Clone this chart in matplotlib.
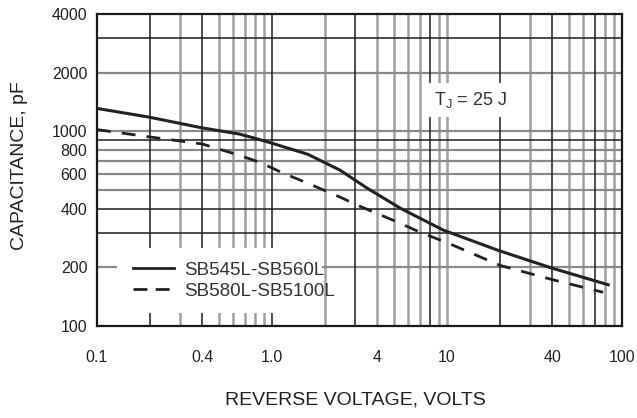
import matplotlib
matplotlib.use("Agg")
import matplotlib.pyplot as plt
from matplotlib.patches import Rectangle
from matplotlib.lines import Line2D

# ---- data ----
v_solid = [0.1, 0.2, 0.4, 0.65, 0.8, 1.0, 1.6, 2.45, 3.5, 5.4, 9.5, 19.5, 40, 85]
c_solid = [1310, 1180, 1040, 968, 920, 868, 762, 631, 510, 403, 311, 245, 198, 162]
v_dash = [0.1, 0.2, 0.4, 0.65, 0.85, 1.16, 1.6, 2.45, 3.06, 5.4, 7.0, 10, 20, 40, 78]
c_dash = [1020, 935, 860, 753, 693, 609, 541, 459, 418, 337, 303, 268, 205, 173, 149]
label_solid = "SB545L-SB560L"
label_dash = "SB580L-SB5100L"

xticks = [0.1, 0.4, 1.0, 4, 10, 40, 100]
xtick_labels = ["0.1", "0.4", "1.0", "4", "10", "40", "100"]
yticks = [100, 200, 400, 600, 800, 1000, 2000, 4000]
ytick_labels = ["100", "200", "400", "600", "800", "1000", "2000", "4000"]

dark_v = [0.2, 0.4, 1.0, 3, 8, 20, 40, 70]
gray_v = [0.3, 0.5, 0.6, 0.7, 0.8, 0.9, 2, 4, 5, 6, 7, 9, 10, 30, 50, 60, 80, 90]
dark_h = [3000, 900, 400, 300]
gray_h = [2000, 1000, 800, 700, 600, 500, 200]

plt.rcParams["font.family"] = ["Liberation Sans", "DejaVu Sans"]

fig = plt.figure(figsize=(6.37, 4.18), dpi=100)
ax = fig.add_axes([97/637, 1-326/418, 525/637, 312/418])
ax.set_xscale("log")
ax.set_yscale("log")
ax.set_xlim(0.1, 100)
ax.set_ylim(100, 4000)

for v in gray_v:
    ax.axvline(v, color="#a0a0a0", lw=1.8, zorder=1)
for v in dark_v:
    ax.axvline(v, color="#1e1e1e", lw=1.1, zorder=1.2)
for h in gray_h:
    ax.axhline(h, color="#8a8a8a", lw=1.6, zorder=1.1)
for h in dark_h:
    ax.axhline(h, color="#1e1e1e", lw=1.1, zorder=1.2)

ax.plot(v_solid, c_solid, color="#222222", lw=2.2, zorder=3, solid_capstyle="butt")
ax.plot(v_dash, c_dash, color="#222222", lw=2.0, ls=(0, (5, 4)), zorder=3)

# white area behind legend
ax.add_patch(Rectangle((0.038, 0.042), 0.39, 0.208, transform=ax.transAxes,
                       facecolor="white", edgecolor="none", zorder=2))
handles = [Line2D([], [], color="#222222", lw=2.0),
           Line2D([], [], color="#222222", lw=2.0, ls=(0, (5, 3)))]
leg = ax.legend(handles, [label_solid, label_dash], loc="center left",
                bbox_to_anchor=((133-97)/525, (326-280.5)/312), frameon=False,
                borderpad=0, borderaxespad=0, handlelength=2.2,
                handletextpad=0.55, labelspacing=0.2,
                prop={"size": 13.5})
for t in leg.get_texts():
    t.set_color("#333333")
leg.set_zorder(4)

ax.text(0.712, 0.724, r"T$_\mathregular{J}$ = 25 J", transform=ax.transAxes,
        ha="center", va="center", fontsize=13, color="#333333",
        bbox=dict(facecolor="white", edgecolor="none", pad=5), zorder=4)

ax.set_xticks(xticks)
ax.set_xticklabels(xtick_labels)
ax.set_yticks(yticks)
ax.set_yticklabels(ytick_labels)
ax.minorticks_off()
ax.tick_params(axis="both", length=0, labelsize=11.5, colors="#222222")
ax.tick_params(axis="x", pad=17)
ax.tick_params(axis="y", pad=7)

for s in ax.spines.values():
    s.set_color("#1a1a1a")
    s.set_linewidth(1.6)
    s.set_zorder(5)

ax.set_xlabel("REVERSE VOLTAGE, VOLTS", fontsize=14, color="#222222")
ax.xaxis.label.set_va("center")
ax.xaxis.set_label_coords((355-97)/525, (326-400)/312)
ax.set_ylabel("CAPACITANCE, pF", fontsize=14, color="#222222")
ax.yaxis.label.set_va("center")
ax.yaxis.set_label_coords((20-97)/525, (326-166)/312)

fig.savefig("out.png", dpi=100, facecolor="white")
